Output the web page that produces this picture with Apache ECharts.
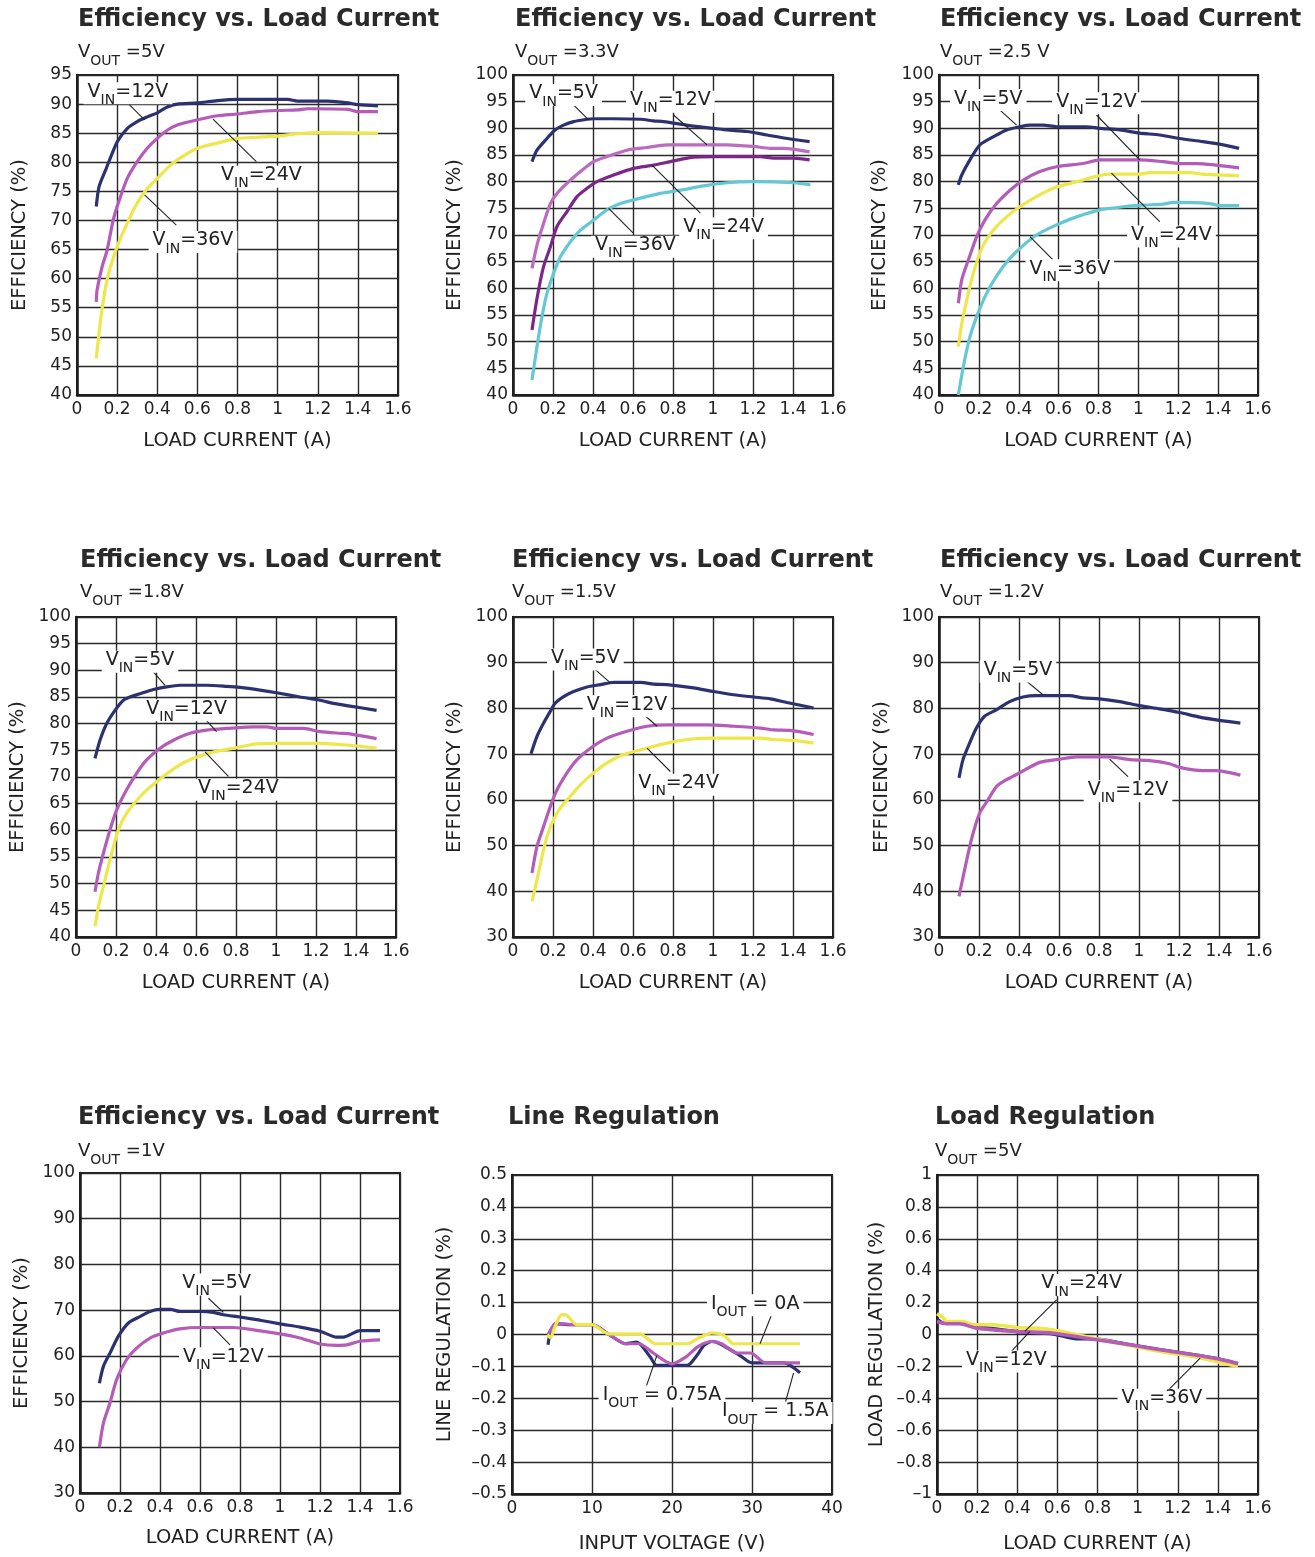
<!DOCTYPE html>
<html><head><meta charset="utf-8">
<script src="https://cdn.jsdelivr.net/npm/echarts@6/dist/echarts.min.js"></script>
<style>html,body{margin:0;padding:0;background:#fff}#c{width:1315px;height:1557px}</style>
</head><body><div id="c"></div>
<script>
// ---------------- DATA ----------------
// Panel 1: VOUT = 5V
const v50_vin12 = [[0.096,72.4],[0.11,75.8],[0.143,78.7],[0.2,83.5],[0.25,85.8],[0.3,87],[0.35,87.8],[0.4,88.5],[0.45,89.5],[0.5,90],[0.6,90.2],[0.7,90.6],[0.8,90.8],[0.9,90.8],[1.05,90.8],[1.1,90.5],[1.25,90.5],[1.35,90.2],[1.4,89.9],[1.5,89.7]];
const v50_vin24 = [[0.096,56],[0.1,58],[0.125,62],[0.15,64.9],[0.18,70],[0.2,72.4],[0.25,77.2],[0.3,80.1],[0.35,82.4],[0.4,84.1],[0.45,85.5],[0.5,86.4],[0.6,87.3],[0.7,88],[0.8,88.3],[0.9,88.7],[1.0,88.9],[1.1,89],[1.15,89.2],[1.35,89.1],[1.4,88.7],[1.5,88.7]];
const v50_vin36 = [[0.096,46.3],[0.12,53.5],[0.15,59.8],[0.2,65.5],[0.25,69.5],[0.3,73],[0.35,75.5],[0.4,77.2],[0.45,79],[0.5,80.4],[0.6,82.4],[0.7,83.3],[0.8,84.1],[0.9,84.3],[1.0,84.5],[1.1,84.9],[1.2,85.1],[1.5,85]];
// Panel 2: VOUT = 3.3V
const v33_vin5 = [[0.095,83.75],[0.12,85.9],[0.17,88.1],[0.21,89.7],[0.253,90.6],[0.303,91.25],[0.37,91.7],[0.403,91.8],[0.503,91.8],[0.637,91.7],[0.703,91.4],[0.753,91.25],[0.903,90.4],[1.003,90],[1.07,89.7],[1.17,89.4],[1.27,88.75],[1.387,88],[1.483,87.5]];
const v33_vin12 = [[0.095,63.75],[0.12,68.1],[0.153,72.2],[0.187,75.9],[0.22,77.8],[0.27,79.7],[0.337,81.9],[0.403,83.75],[0.47,84.7],[0.57,85.9],[0.67,86.4],[0.77,86.9],[0.903,86.9],[1.07,86.9],[1.203,86.6],[1.287,86.25],[1.353,86.25],[1.483,85.6]];
const v33_vin24 = [[0.095,52.2],[0.12,58.1],[0.153,64.1],[0.187,67.8],[0.22,71.6],[0.27,74.4],[0.32,77.2],[0.37,78.75],[0.42,80],[0.503,81.25],[0.603,82.5],[0.703,83.1],[0.803,83.9],[0.903,84.6],[1.003,84.7],[1.237,84.7],[1.303,84.4],[1.403,84.4],[1.483,84.1]];
const v33_vin36 = [[0.095,42.8],[0.12,49.1],[0.145,54.7],[0.17,59.1],[0.203,62.8],[0.237,65.9],[0.287,68.75],[0.337,70.9],[0.403,72.8],[0.47,74.7],[0.537,75.9],[0.637,76.9],[0.737,77.8],[0.837,78.4],[0.953,79.2],[1.07,79.8],[1.203,80],[1.403,79.8],[1.487,79.4]];
// Panel 3: VOUT = 2.5V
const v25_vin5 = [[0.097,79.4],[0.114,81.25],[0.155,84.1],[0.205,86.9],[0.272,88.4],[0.339,89.7],[0.406,90.3],[0.456,90.6],[0.523,90.6],[0.59,90.3],[0.74,90.3],[0.807,90],[0.907,89.7],[1.007,89.1],[1.107,88.75],[1.207,88.1],[1.324,87.5],[1.425,86.9],[1.505,86.25]];
const v25_vin12 = [[0.097,57.2],[0.114,61.6],[0.147,65.3],[0.189,69.7],[0.23,72.8],[0.289,75.9],[0.356,78.4],[0.423,80.3],[0.506,81.9],[0.59,82.8],[0.723,83.4],[0.807,84.1],[1.007,84.1],[1.124,83.75],[1.207,83.4],[1.29,83.4],[1.391,83.1],[1.505,82.6]];
const v25_vin24 = [[0.097,49.1],[0.114,53.4],[0.139,57.8],[0.172,62.8],[0.214,67.5],[0.272,70.9],[0.339,73.4],[0.406,75.3],[0.489,77.2],[0.573,78.75],[0.69,80],[0.857,81.4],[1.007,81.4],[1.057,81.7],[1.258,81.7],[1.324,81.4],[1.505,81.1]];
const v25_vin36 = [[0.097,40],[0.122,45.3],[0.155,50.9],[0.205,56.25],[0.256,60.3],[0.322,64.1],[0.389,66.9],[0.489,70],[0.59,71.9],[0.69,73.4],[0.807,74.7],[0.924,75.3],[1.024,75.6],[1.124,75.8],[1.174,76.1],[1.358,75.9],[1.408,75.5],[1.505,75.5]];
// Panel 4: VOUT = 1.8V
const v18_vin5 = [[0.095,73.5],[0.12,76.9],[0.153,80],[0.195,82.5],[0.237,84.4],[0.27,85],[0.32,85.6],[0.387,86.4],[0.453,86.9],[0.52,87.2],[0.653,87.2],[0.753,87],[0.82,86.8],[0.92,86.3],[1.003,85.8],[1.12,85],[1.22,84.4],[1.287,83.8],[1.37,83.3],[1.503,82.5]];
const v18_vin12 = [[0.095,48.5],[0.112,52],[0.137,55.7],[0.17,60.1],[0.203,63.8],[0.253,67.6],[0.303,70.7],[0.353,73.2],[0.42,75.4],[0.487,76.9],[0.57,78.2],[0.653,78.8],[0.753,79.1],[0.887,79.4],[0.953,79.4],[1.003,79.1],[1.137,79.1],[1.22,78.5],[1.32,78.2],[1.37,78.1],[1.503,77.2]];
const v18_vin24 = [[0.095,42],[0.112,45.7],[0.137,49.5],[0.17,54.5],[0.212,60.1],[0.253,63.2],[0.32,66.3],[0.403,69.1],[0.503,71.9],[0.587,73.5],[0.687,74.7],[0.787,75.4],[0.903,76.2],[1.003,76.3],[1.22,76.3],[1.353,76],[1.503,75.4]];
// Panel 5: VOUT = 1.5V
const v15_vin5 = [[0.09,70.1],[0.12,73.9],[0.153,76.8],[0.187,79.4],[0.212,81.2],[0.253,82.6],[0.303,83.7],[0.37,84.7],[0.437,85.2],[0.503,85.7],[0.637,85.7],[0.703,85.3],[0.77,85.2],[0.903,84.5],[1.003,83.7],[1.103,83],[1.203,82.5],[1.287,82.1],[1.37,81.3],[1.503,80.1]];
const v15_vin12 = [[0.095,44],[0.12,49.8],[0.153,54.2],[0.187,58.6],[0.22,62.2],[0.27,65.9],[0.32,68.8],[0.387,71.3],[0.47,73.5],[0.57,75],[0.67,76.1],[0.77,76.4],[0.97,76.4],[1.103,76.1],[1.237,75.7],[1.303,75.3],[1.387,75.2],[1.503,74.3]];
const v15_vin24 = [[0.095,37.8],[0.12,42.5],[0.145,47.6],[0.17,52],[0.203,55.7],[0.237,58.2],[0.287,60.8],[0.337,63.3],[0.403,65.9],[0.47,68.1],[0.553,69.9],[0.67,71.3],[0.77,72.4],[0.87,73.2],[1.003,73.5],[1.237,73.5],[1.303,73.2],[1.403,73],[1.503,72.4]];
// Panel 6: VOUT = 1.2V
const v12_vin5 = [[0.1,64.8],[0.12,68.8],[0.153,72.4],[0.187,75.7],[0.228,78.3],[0.287,79.7],[0.353,81.5],[0.42,82.5],[0.487,82.8],[0.653,82.8],[0.72,82.3],[0.803,82.1],[0.903,81.5],[1.003,80.6],[1.103,79.9],[1.203,79.1],[1.303,78.1],[1.403,77.4],[1.507,76.8]];
const v12_vin12 = [[0.1,38.9],[0.128,44.7],[0.162,51.3],[0.203,57.1],[0.245,60],[0.287,62.9],[0.337,64.4],[0.403,65.9],[0.503,68.2],[0.603,68.9],[0.687,69.4],[0.853,69.4],[0.953,68.8],[1.053,68.6],[1.153,67.9],[1.203,67.1],[1.32,66.4],[1.387,66.4],[1.507,65.4]];
// Panel 7: VOUT = 1V
const v10_vin5 = [[0.097,54],[0.117,57.7],[0.15,60.6],[0.192,64.3],[0.242,67.2],[0.3,68.6],[0.35,69.7],[0.4,70.2],[0.45,70.2],[0.5,69.7],[0.6,69.7],[0.667,69.5],[0.717,69],[0.8,68.5],[0.9,67.8],[1.0,67],[1.1,66.3],[1.2,65.4],[1.283,64.1],[1.317,64.1],[1.4,65.5],[1.5,65.5]];
const v10_vin12 = [[0.097,40],[0.117,45.3],[0.15,49.7],[0.183,54.8],[0.233,59.2],[0.283,61.7],[0.35,63.9],[0.417,65],[0.5,65.9],[0.6,66.2],[0.767,66.2],[0.867,65.7],[1.0,64.8],[1.1,63.9],[1.2,62.6],[1.283,62.3],[1.333,62.4],[1.4,63.2],[1.5,63.5]];
// Panel 8: Line regulation (x = input voltage V, y = %)
const line_iout0 = [[4.4,0],[4.8,-0.01],[5.3,0.02],[6.2,0.062],[6.9,0.059],[8.1,0.031],[10,0.031],[12.1,0.002],[16,0.002],[17.9,-0.029],[21.9,-0.029],[23.1,-0.014],[25,0.005],[26.5,-0.003],[27.7,-0.029],[36,-0.029]];
const line_iout075 = [[4.5,0],[5.3,0.033],[5.6,0.035],[7.7,0.031],[10,0.031],[12.3,-0.003],[14.2,-0.029],[15.9,-0.029],[17.5,-0.055],[20,-0.092],[21.7,-0.071],[23.3,-0.037],[25,-0.022],[26.2,-0.029],[28.1,-0.058],[29.8,-0.058],[31.7,-0.089],[36,-0.089]];
const line_iout15 = [[4.5,-0.032],[4.8,0.007],[5.3,0.028],[5.6,0.033],[7.7,0.031],[10,0.031],[12.3,-0.003],[14.2,-0.029],[15.6,-0.024],[17.3,-0.071],[18.1,-0.097],[21.9,-0.097],[23.1,-0.066],[24,-0.034],[25,-0.022],[26,-0.029],[28.5,-0.066],[30,-0.089],[34,-0.089],[36,-0.12]];
// Panel 9: Load regulation (VOUT = 5V)
const load_vin12 = [[0,0.096],[0.033,0.071],[0.113,0.071],[0.196,0.05],[0.396,0.019],[0.58,0.004],[0.696,-0.027],[0.779,-0.027],[0.946,-0.061],[1.112,-0.096],[1.279,-0.127],[1.378,-0.148],[1.5,-0.183]];
const load_vin24 = [[0,0.081],[0.033,0.071],[0.047,0.067],[0.113,0.067],[0.196,0.04],[0.396,0.019],[0.58,0.008],[0.746,-0.023],[0.946,-0.061],[1.112,-0.096],[1.279,-0.127],[1.378,-0.148],[1.5,-0.183]];
const load_vin36 = [[0,0.13],[0.033,0.102],[0.047,0.081],[0.13,0.081],[0.18,0.061],[0.28,0.061],[0.396,0.044],[0.546,0.035],[0.646,0.013],[0.779,-0.023],[0.946,-0.065],[1.112,-0.106],[1.279,-0.138],[1.378,-0.165],[1.5,-0.2]];

// Annotation texts & anchor points (data coordinates): [prefix, subscript, rest, textX, textY, lineX1, lineY1, lineX2, lineY2]
const ann1 = [['V','IN','=12V',0.254,91.85,0.238,90.7,0.337,87.3],['V','IN','=24V',0.919,77.5,0.894,80.1,0.678,87.4],['V','IN','=36V',0.578,66.3,0.495,69.2,0.337,74.4]];
const ann2 = [['V','IN','=5V',0.253,96.25,0.295,94.7,0.378,91.6],['V','IN','=12V',0.787,95,0.803,92.5,0.97,86.9],['V','IN','=24V',1.053,71.25,0.937,74.1,0.695,83.1],['V','IN','=36V',0.612,67.8,0.6,70.4,0.478,75]];
const ann3 = [['V','IN','=5V',0.247,95.3,0.306,93.4,0.389,90.6],['V','IN','=12V',0.79,94.7,0.79,92.5,1.007,84.1],['V','IN','=24V',1.166,69.7,1.107,72.5,0.865,81.6],['V','IN','=36V',0.656,63.4,0.573,65.3,0.456,69.7]];
const ann4 = [['V','IN','=5V',0.32,91.6,0.387,89.7,0.445,87.2],['V','IN','=12V',0.553,82.5,0.628,81.6,0.703,78.5],['V','IN','=24V',0.812,67.6,0.762,70.1,0.645,74.7]];
const ann5 = [['V','IN','=5V',0.362,90.7,0.403,88.8,0.487,85.6],['V','IN','=12V',0.57,80.5,0.645,79,0.72,76.1],['V','IN','=24V',0.828,63.3,0.787,66.2,0.67,71.3]];
const ann6 = [['V','IN','=5V',0.395,88.1,0.428,86.3,0.52,83],['V','IN','=12V',0.945,61.9,0.945,65.1,0.853,68.9]];
const ann7 = [['V','IN','=5V',0.683,75.6,0.642,72.6,0.717,69.5],['V','IN','=12V',0.717,59.5,0.75,62.4,0.667,66.1]];
const ann8 = [['I','OUT',' = 0A',30.4,0.092,32.5,0.065,31,-0.029],['I','OUT',' = 0.75A',18.75,-0.194,16.8,-0.162,18.1,-0.066],['I','OUT',' = 1.5A',32.9,-0.246,34.2,-0.21,35.2,-0.12]];
const ann9 = [['V','IN','=24V',0.721,0.31,0.596,0.217,0.438,0.019],['V','IN','=12V',0.346,-0.169,0.371,-0.106,0.463,0.019],['V','IN','=36V',1.121,-0.409,1.154,-0.347,1.312,-0.148]];

// ---------------- STYLE ----------------
const FONT = 'DejaVu Sans';
const TXT = '#222';
const NAVY = '#2c3270', ORCHID = '#b45cb8', ORCHID2 = '#bb6cc0', PLUM = '#7b2788', YELLOW = '#eee74a', CYAN = '#64c8d2';

const effTitle = 'Efficiency vs. Load Current';
const panels = [
  {g:[77,75,321,320], x:[0,1.6,0.2], y:[40,95,5], title:effTitle, tl:78, row:0, sub:'=5V', yGap:47, xGap:36, yName:'EFFICIENCY (%)', xName:'LOAD CURRENT (A)',
   series:[[v50_vin12,NAVY],[v50_vin24,ORCHID],[v50_vin36,YELLOW]], ann:ann1},
  {g:[513,75,320,320], x:[0,1.6,0.2], y:[40,100,5], title:effTitle, tl:515, row:0, sub:'=3.3V', yGap:48, xGap:36, yName:'EFFICIENCY (%)', xName:'LOAD CURRENT (A)',
   series:[[v33_vin5,NAVY],[v33_vin12,ORCHID2],[v33_vin24,PLUM],[v33_vin36,CYAN]], ann:ann2},
  {g:[939,75,319,320], x:[0,1.6,0.2], y:[40,100,5], title:effTitle, tl:940, row:0, sub:'=2.5 V', yGap:49, xGap:36, yName:'EFFICIENCY (%)', xName:'LOAD CURRENT (A)',
   series:[[v25_vin5,NAVY],[v25_vin12,ORCHID],[v25_vin24,YELLOW],[v25_vin36,CYAN]], ann:ann3},
  {g:[76,617,320,320], x:[0,1.6,0.2], y:[40,100,5], title:effTitle, tl:80, row:1, sub:'=1.8V', yGap:48, xGap:36, yName:'EFFICIENCY (%)', xName:'LOAD CURRENT (A)',
   series:[[v18_vin5,NAVY],[v18_vin12,ORCHID],[v18_vin24,YELLOW]], ann:ann4},
  {g:[513,617,320,320], x:[0,1.6,0.2], y:[30,100,10], title:effTitle, tl:512, row:1, sub:'=1.5V', yGap:48, xGap:36, yName:'EFFICIENCY (%)', xName:'LOAD CURRENT (A)',
   series:[[v15_vin5,NAVY],[v15_vin12,ORCHID],[v15_vin24,YELLOW]], ann:ann5},
  {g:[939,617,320,320], x:[0,1.6,0.2], y:[30,100,10], title:effTitle, tl:940, row:1, sub:'=1.2V', yGap:47, xGap:36, yName:'EFFICIENCY (%)', xName:'LOAD CURRENT (A)',
   series:[[v12_vin5,NAVY],[v12_vin12,ORCHID]], ann:ann6},
  {g:[80,1173,320,320], x:[0,1.6,0.2], y:[30,100,10], title:effTitle, tl:78, row:2, sub:'=1V', yGap:48, xGap:35, yName:'EFFICIENCY (%)', xName:'LOAD CURRENT (A)',
   series:[[v10_vin5,NAVY],[v10_vin12,ORCHID]], ann:ann7},
  {g:[512,1175,320,319], x:[0,40,10], y:[-0.5,0.5,0.1], title:'Line Regulation', tl:508, row:2, sub:null, yGap:57, xGap:40, yName:'LINE REGULATION (%)', xName:'INPUT VOLTAGE (V)',
   series:[[line_iout15,NAVY],[line_iout075,ORCHID],[line_iout0,YELLOW]], ann:ann8},
  {g:[937,1175,321,319], x:[0,1.6,0.2], y:[-1,1,0.2], title:'Load Regulation', tl:935, row:2, sub:'=5V', yGap:50, xGap:40, yName:'LOAD REGULATION (%)', xName:'LOAD CURRENT (A)',
   series:[[load_vin12,NAVY],[load_vin36,YELLOW],[load_vin24,ORCHID]], ann:ann9, lw:3.6}
];
const titleTops = [8, 549, 1106];
const subTops = [43, 583, 1142];

function numFmt(v){ const r = Math.round(v*10)/10; return r === 0 ? '0' : String(r).replace('-', '\u2013'); }

const richLab = {
  v:{fontFamily:FONT,fontSize:19,fontWeight:'normal',color:TXT,lineHeight:22,verticalAlign:'top'},
  s:{fontFamily:FONT,fontSize:14,fontWeight:'normal',color:TXT,lineHeight:14,padding:[11,0,0,0],verticalAlign:'top'}
};
const richSub = {
  v:{fontFamily:FONT,fontSize:18,fontWeight:'normal',color:TXT,lineHeight:22,verticalAlign:'top'},
  s:{fontFamily:FONT,fontSize:14,fontWeight:'normal',color:TXT,lineHeight:14,padding:[11,0,0,0],verticalAlign:'top'}
};

const option = {animation:false, backgroundColor:'#fff', title:[], grid:[], xAxis:[], yAxis:[], series:[]};

panels.forEach((p, i) => {
  option.title.push({text:p.title, left:p.tl, top:titleTops[p.row], padding:0,
    textStyle:{fontFamily:FONT, fontWeight:'bold', fontSize:24, color:'#2a2a2a'}});
  if (p.sub) option.title.push({text:'{v|V}{s|OUT}{v| ' + p.sub + '}', left:p.tl, top:subTops[p.row], padding:0,
    textStyle:{fontWeight:'normal', fontFamily:FONT, fontSize:18, color:TXT, rich:richSub}});
  option.grid.push({left:p.g[0], top:p.g[1], width:p.g[2], height:p.g[3], show:true, borderColor:'#1e1e1e', borderWidth:2, backgroundColor:'#fff'});
  const axBase = {gridIndex:i, type:'value', axisTick:{show:false},
    axisLine:{show:true, onZero:false, lineStyle:{color:'#1e1e1e', width:2.5}},
    splitLine:{show:true, lineStyle:{color:'#2a2a2a', width:1.4}},
    nameLocation:'middle', nameTextStyle:{fontFamily:FONT, fontSize:19.5, color:TXT}};
  option.xAxis.push(Object.assign({}, axBase, {min:p.x[0], max:p.x[1], interval:p.x[2], name:p.xName, nameGap:p.xGap,
    axisLabel:{fontFamily:FONT, fontSize:17, color:TXT, margin:6, formatter:numFmt}}));
  option.yAxis.push(Object.assign({}, axBase, {min:p.y[0], max:p.y[1], interval:p.y[2], name:p.yName, nameGap:p.yGap,
    axisLabel:{fontFamily:FONT, fontSize:17, color:TXT, margin:5, formatter:numFmt}}));
  p.series.forEach((s, k) => {
    const isLast = k === p.series.length - 1;
    const ser = {type:'line', xAxisIndex:i, yAxisIndex:i, data:s[0], symbol:'none', smooth:0.25,
      lineStyle:{color:s[1], width:p.lw || 3.2}, itemStyle:{color:s[1]}, z:2 + k*0.01, silent:true};
    if (isLast) {
      ser.markLine = {silent:true, symbol:['none','none'], animation:false, label:{show:false},
        lineStyle:{color:'#222', width:1.1, type:'solid'}, emphasis:{disabled:true},
        data:p.ann.map(a => [{coord:[a[5],a[6]]},{coord:[a[7],a[8]]}])};
      ser.markPoint = {silent:true, symbol:'rect', symbolSize:1, animation:false,
        itemStyle:{color:'rgba(0,0,0,0)'},
        label:{show:true, position:'inside', backgroundColor:'#fff', padding:[0,4,0,4], rich:richLab},
        data:p.ann.map(a => ({coord:[a[3],a[4]], label:{formatter:'{v|' + a[0] + '}{s|' + a[1] + '}{v|' + a[2] + '}'}}))};
    }
    option.series.push(ser);
  });
});

const chart = echarts.init(document.getElementById('c'), null, {renderer:'canvas'});
chart.setOption(option);
</script>
</body></html>
